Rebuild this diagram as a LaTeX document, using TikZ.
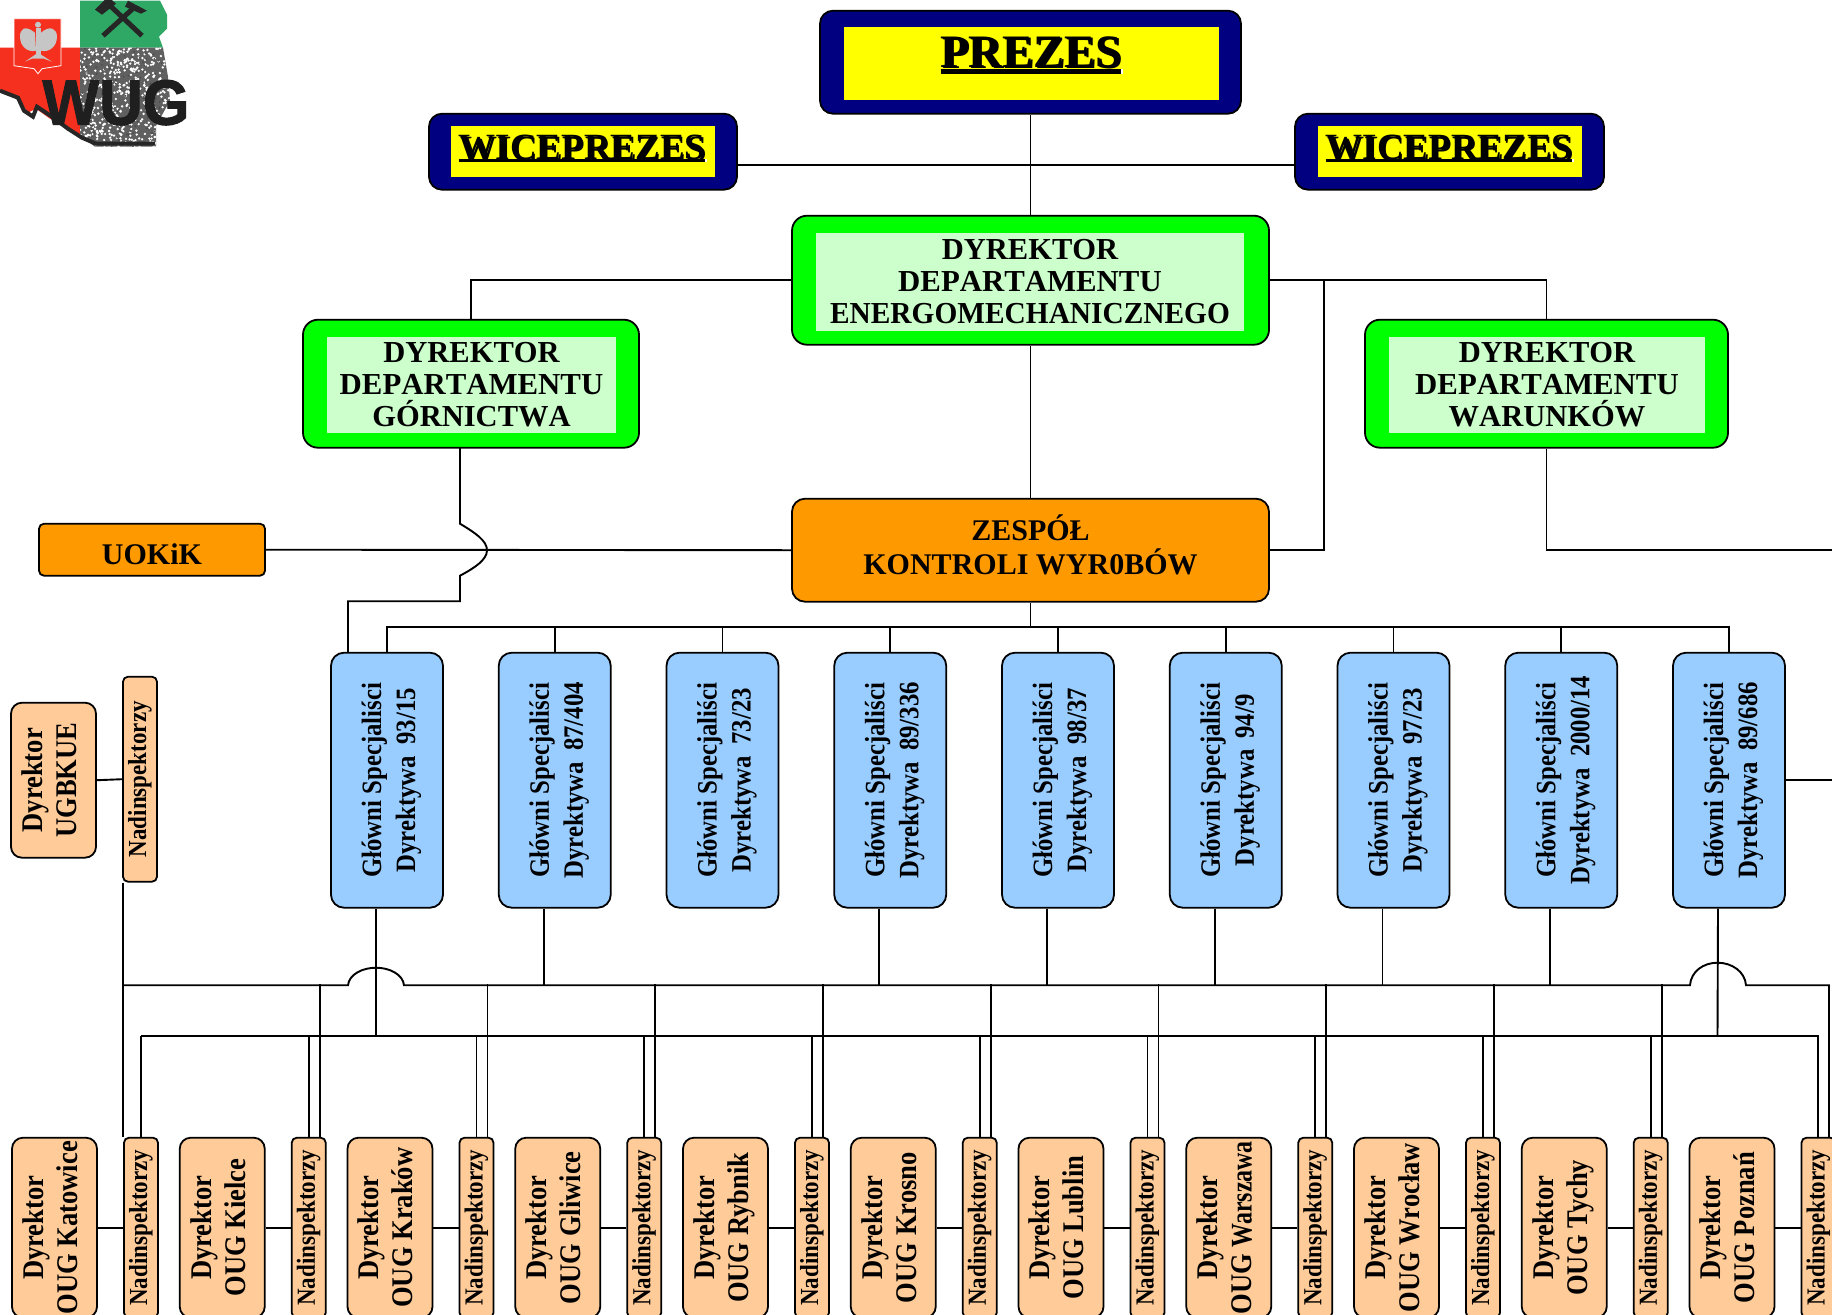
\documentclass[tikz,border=0pt]{standalone}
\usepackage{fontspec}
\setmainfont{Liberation Serif}[Kerning=Off]
\newfontfamily\condf{Liberation Serif}[FakeStretch=0.885]
\newfontfamily\logof{Liberation Sans}[FakeBold=1.5]
\definecolor{navyc}{HTML}{000080}
\definecolor{yelc}{HTML}{FFFF00}
\definecolor{grnc}{HTML}{00FF00}
\definecolor{lgrn}{HTML}{CCFFCC}
\definecolor{orgc}{HTML}{FF9900}
\definecolor{bluc}{HTML}{99CCFF}
\definecolor{pchc}{HTML}{FFCC99}
\definecolor{logog}{HTML}{2FA866}
\definecolor{logor}{HTML}{F5301F}
\newcommand\ultxt[3]{{\sbox0{#1}\makebox[0pt][l]{\kern1.5pt\raisebox{-1.5pt}{\textcolor{white}{\usebox0}}}\makebox[0pt][l]{\kern1.5pt\textcolor{white}{\rule[-#2]{\wd0}{#3}}}\makebox[0pt][l]{\rule[-#2]{\wd0}{#3}}\usebox0}}
\newcommand\rottwo[3]{\rotatebox{90}{\raisebox{#1}[0pt][0pt]{\begin{tabular}{@{}c@{}}#2\\#3\end{tabular}}}}
\newcommand\depw{\scalebox{1.01}[1]{DEPARTAMENTU}}
\tikzset{
  x=1pt,y=-1pt,
  conn/.style={line width=1.9pt,draw=black},
  outerbox/.style={draw=black,line width=1.8pt,rounded corners=#1,inner sep=0pt},
  outernavy/.style={outerbox=13pt,fill=navyc},
  outergreen/.style={outerbox=15pt,fill=grnc},
  innernavy/.style={fill=yelc,inner sep=0pt},
  innergreen/.style={fill=lgrn,inner sep=0pt,align=center,font=\fontsize{30.5}{32.3}\selectfont\bfseries},
  orangebox/.style={outerbox=#1,fill=orgc},
  orangetext/.style={inner sep=0pt,align=center,font=\fontsize{30}{34}\selectfont\bfseries},
  bluebox/.style={outerbox=13pt,fill=bluc,minimum width=112pt,minimum height=255pt,font=\fontsize{28}{34}\selectfont\condf\bfseries},
  dirbox/.style={outerbox=11pt,fill=pchc,font=\fontsize{30}{34}\selectfont\condf\bfseries},
  nadbox/.style={outerbox=5pt,fill=pchc,font=\fontsize{26}{30}\selectfont\condf\bfseries},
}
\begin{document}
\begin{tikzpicture}
\clip (0,0) rectangle (1832,1315);
\fill[white] (0,0) rectangle (1832,1315);
\begin{scope}[yshift=-0.7pt]
% ---- logo
\fill[logog] (80,0) -- (160,0) -- (167,14) -- (167,28) -- (159,36) -- (163,47) -- (80,47) -- cycle;
\fill[logor] (0,47) -- (80,47) -- (80,135) -- (70,128) -- (50,118) -- (36,108) -- (28,112) -- (20,100) -- (0,90) -- cycle;
\begin{scope}
\clip (80,47) -- (163,47) -- (168,76) -- (170,100) -- (156,125) -- (156,146) -- (95,146) -- (80,135) -- cycle;
\fill[gray!75!black] (78,45) rectangle (172,148);
\pgfmathsetseed{7}
\foreach \k in {1,...,520}{
  \pgfmathsetmacro\px{80+90*rnd}
  \pgfmathsetmacro\py{47+100*rnd}
  \fill[white] (\px,\py) circle (1.3pt);
}
\foreach \k in {1,...,160}{
  \pgfmathsetmacro\px{80+90*rnd}
  \pgfmathsetmacro\py{47+100*rnd}
  \fill[black!70] (\px,\py) circle (1pt);
}
\end{scope}
\draw[line width=4pt,black!85] (0,90) -- (18,97) -- (24,110) -- (33,116) -- (37,106) -- (52,116) -- (68,128) -- (82,137) -- (96,143) -- (155,143);
\draw[line width=5pt,black!85] (103,35) -- (135,6);
\draw[line width=5pt,black!85] (142,35) -- (108,3);
\fill[black!85] (128,0) -- (147,10) -- (141,13) -- (125,6) -- cycle;
\fill[black!85] (95,9) -- (108,-4) -- (116,3) -- (102,14) -- cycle;
\draw[white,fill=logor,line width=.8pt] (14,18) -- (61,18) -- (61,65) -- (42,68) -- (38,73) -- (34,68) -- (14,65) -- cycle;
\fill[gray!45] (38,24) circle (3pt);
\fill[gray!45] (36,27) rectangle (41,55);
\fill[gray!45] (35,32) .. controls (25,24) and (20,28) .. (20,36) .. controls (20,46) and (28,52) .. (36,50) -- cycle;
\fill[gray!45] (41,32) .. controls (50,24) and (57,28) .. (57,36) .. controls (57,46) and (49,52) .. (41,50) -- cycle;
\fill[gray!45] (25,61) -- (38,52) -- (52,61) -- (44,58) -- (32,58) -- cycle;
\node[inner sep=0pt,anchor=base,text=black!88,font=\fontsize{64}{64}\selectfont\logof\bfseries,xscale=.94] (wug) at (116,124) {WUG};

% ---- top boxes
\node[outernavy,minimum width=421pt,minimum height=103pt] (pres) at (1030.5,61.5) {};
\node[innernavy,minimum width=375pt,minimum height=73pt] (presin) at (1031.5,62.5) {};
\node[inner sep=0pt,anchor=base,font=\fontsize{46.5}{50}\selectfont\bfseries] (prest) at (1031,66.5) {\ultxt{PREZES}{6.5pt}{5pt}};

\node[outernavy,minimum width=308pt,minimum height=76pt] (vl) at (583,151) {};
\node[innernavy,minimum width=264pt,minimum height=51pt] (vlin) at (583,150.5) {};
\node[inner sep=0pt,anchor=base,font=\fontsize{37}{40}\selectfont\bfseries] (vlt) at (582,159) {\ultxt{WICEPREZES}{2pt}{3pt}};

\node[outernavy,minimum width=309pt,minimum height=76pt] (vr) at (1449.5,151) {};
\node[innernavy,minimum width=264pt,minimum height=51pt] (vrin) at (1450,150.5) {};
\node[inner sep=0pt,anchor=base,font=\fontsize{37}{40}\selectfont\bfseries] (vrt) at (1449,159) {\ultxt{WICEPREZES}{2pt}{3pt}};

% ---- department directors
\node[outergreen,minimum width=477pt,minimum height=129pt] (en) at (1030.5,279.5) {};
\node[innergreen,minimum width=428pt,minimum height=98pt] (enin) at (1030,281) {DYREKTOR\\\depw\\\scalebox{.963}[1]{ENERGOMECHANICZNEGO}};

\node[outergreen,minimum width=336pt,minimum height=128pt] (go) at (471,383) {};
\node[innergreen,minimum width=289pt,minimum height=96pt] (goin) at (471.5,384) {DYREKTOR\\\depw\\GÓRNICTWA};

\node[outergreen,minimum width=363pt,minimum height=128pt] (wa) at (1546.5,383) {};
\node[innergreen,minimum width=316pt,minimum height=96pt] (wain) at (1547,384) {DYREKTOR\\\depw\\WARUNKÓW};

% ---- orange
\node[orangebox=13pt,minimum width=477pt,minimum height=103pt] (ze) at (1030.5,549.5) {};
\node[orangetext] (zet) at (1030.5,544) {ZESPÓŁ\\KONTROLI WYR0BÓW};
\node[orangebox=5pt,minimum width=226pt,minimum height=52pt] (uo) at (152,549) {};
\node[orangetext] (uot) at (152,553.5) {UOKiK};

% ---- blue boxes
\foreach \i/\a/\b in {1/93/15,2/87/404,3/73/23,4/89/336,5/98/37,6/94/9,7/97/23,8/2000/14,9/89/686}{
  \node[bluebox] (b\i) at ({387+(\i-1)*167.75},779.5) {\rottwo{-10.5pt}{Główni Specjaliści}{Dyrektywa\hspace{.4em}\a/\b}};
}

% ---- lower row
\foreach \i/\n in {1/Katowice,2/Kielce,3/Kraków,4/Gliwice,5/Rybnik,6/Krosno,7/Lublin,8/{\scalebox{.9}[1]{Warszawa}},9/Wrocław,10/Tychy,11/Poznań}{
  \node[dirbox,minimum width=85pt,minimum height=180pt] (d\i) at ({54.5+(\i-1)*167.75},1227) {\rottwo{-5.2pt}{Dyrektor}{OUG \n}};
  \node[nadbox,minimum width=34pt,minimum height=180pt] (n\i) at ({141+(\i-1)*167.75},1227) {\rotatebox{90}{Nadinspektorzy}};
  \draw[conn] (d\i.east) -- (n\i.west);
}
\node[dirbox,minimum width=85pt,minimum height=155pt] (du) at (53.5,779.5) {\rottwo{-5.2pt}{Dyrektor}{UGBKUE}};
\node[nadbox,minimum width=34pt,minimum height=205pt] (nu) at (140,778.5) {\rotatebox{90}{Nadinspektorzy}};
\draw[conn] (du.east) -- (nu.west);

% ---- upper connectors
\draw[conn] (pres.south) -- (en.north);
\draw[conn] (vl.east |- 0,164.5) -- (vr.west |- 0,164.5);
\draw[conn] (en.west) -| (go.north);
\draw[conn] (en.east) -| (wa.north);
\coordinate (zr) at (1324,280);
\draw[conn] (zr) |- (ze.east);
\draw[conn] (en.south) -- (ze.north);
\draw[conn] (uo.east) -- (ze.west);
\coordinate (edgeW) at (1832,549.5);
\draw[conn] (wa.south) |- (edgeW);
\coordinate (gj) at (460,447);
\draw[conn] (gj) -- (460,523) .. controls (475,532) and (487,540) .. (487,549.5) .. controls (487,559) and (475,567) .. (460,575) -- (460,600.5) -- (348,600.5) -- (348,652);
% bus over blue boxes
\coordinate (bt) at (1030.5,626);
\draw[conn] (ze.south) -- (bt);
\draw[conn] (b1.north) |- (bt);
\foreach \i in {2,...,9}{ \draw[conn] (b\i.north) -- ++(0,-26) ; }
\draw[conn] (b1.north |- bt) -- (b9.north |- bt);
\coordinate (edgeB) at (1832,779.5);
\draw[conn] (b9.east) -- (edgeB);

% ---- lower buses
\draw[conn] (nu.south -| n1.west) -- (n1.north west);
\draw[conn] (124,984.5) -- (348,984.5) .. controls (349,974) and (362,967) .. (376,967) .. controls (390,967) and (403,974) .. (404,984.5) -- (1690,984.5) .. controls (1691,971) and (1703,962) .. (1717.5,962) .. controls (1732,962) and (1745,971) .. (1746,984.5) -- (1829,984.5) -- (1829,1137);
\draw[conn] (141,1035.5) -- (1818,1035.5) -- (1818,1137);
\draw[conn] (141,1035.5) -- (n1.north);
\draw[conn] ([xshift=-11pt]b1.south) -- (376,1035.5);
\draw[conn] ([xshift=-11pt]b9.south) -- (1717.5,1035.5);
\foreach \i in {2,4,5,6,7,8}{ \draw[conn] ([xshift=-11pt]b\i.south) -- ++(0,77.5); }
\foreach \i in {2,...,10}{
  \draw[conn] (n\i.north) -- ++(0,-101.5);
  \draw[conn] ([xshift=11pt]n\i.north) -- ++(0,-152.5);
}
\end{scope}
\end{tikzpicture}
\end{document}
